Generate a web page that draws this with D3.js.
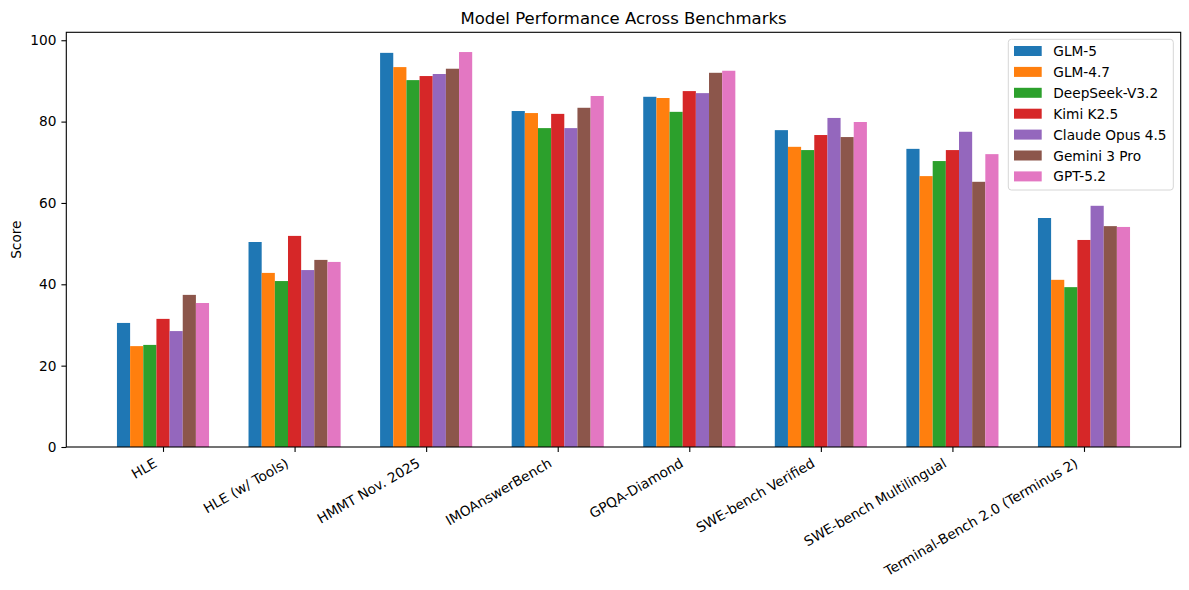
<!DOCTYPE html>
<html>
<head>
<meta charset="utf-8">
<script src="https://cdn.jsdelivr.net/npm/d3@7"></script>
<style>
  body { margin: 0; background: #fff; }
  svg { font-family: "DejaVu Sans", sans-serif; }
</style>
</head>
<body>
<div id="chart"></div>
<script>
// benchmark names and model names
var benchmarks = ["HLE", "HLE (w/ Tools)", "HMMT Nov. 2025", "IMOAnswerBench", "GPQA-Diamond",
    "SWE-bench Verified", "SWE-bench Multilingual", "Terminal-Bench 2.0 (Terminus 2)"];
var models = ["GLM-5", "GLM-4.7", "DeepSeek-V3.2", "Kimi K2.5", "Claude Opus 4.5", "Gemini 3 Pro", "GPT-5.2"];

// scores per model, one value per benchmark
var glm5     = [30.5, 50.4, 96.9, 82.6, 86.1, 77.9, 73.3, 56.3];
var glm47    = [24.8, 42.8, 93.4, 82.1, 85.8, 73.8, 66.6, 41.1];
var deepseek = [25.1, 40.8, 90.2, 78.4, 82.4, 73.0, 70.3, 39.3];
var kimi     = [31.5, 51.9, 91.2, 81.9, 87.5, 76.7, 73.0, 50.9];
var claude   = [28.5, 43.5, 91.7, 78.4, 87.0, 80.9, 77.5, 59.3];
var gemini   = [37.4, 46.0, 93.0, 83.4, 92.0, 76.2, 65.2, 54.3];
var gpt52    = [35.4, 45.5, 97.1, 86.3, 92.5, 79.9, 72.0, 54.1];

var yTicks = [0, 20, 40, 60, 80, 100];

var series = [glm5, glm47, deepseek, kimi, claude, gemini, gpt52];
var colour = d3.scaleOrdinal()
    .domain(models)
    .range(["#1f77b4", "#ff7f0e", "#2ca02c", "#d62728", "#9467bd", "#8c564b", "#e377c2"]);

var width = 1189, height = 590;
var axLeft = 66.3, axRight = 1180.7, axTop = 32.3, axBottom = 447;
var barW = 0.1;

// matplotlib style limits: 5% margin around the bar extents
var lo = -3.5 * barW, hi = benchmarks.length - 1 + 3.5 * barW;
var pad = 0.05 * (hi - lo);
var x = d3.scaleLinear().domain([lo - pad, hi + pad]).range([axLeft, axRight]);
var ymax = d3.max(series, function (s) { return d3.max(s); }) * 1.05;
var y = d3.scaleLinear().domain([0, ymax]).range([axBottom, axTop]);

var svg = d3.select("#chart").append("svg")
    .attr("width", width)
    .attr("height", height);

// bars
series.forEach(function (s, j) {
    svg.append("g")
      .selectAll("rect")
      .data(s)
      .enter()
        .append("rect")
        .attr("x", function (d, i) { return x(i + (j - 3) * barW - barW / 2); })
        .attr("width", function () { return x(barW) - x(0); })
        .attr("y", function (d) { return y(d); })
        .attr("height", function (d) { return y(0) - y(d); })
        .style("fill", colour(models[j]));
});

// y axis
var yAxis = svg.append("g")
    .attr("transform", "translate(" + axLeft + ",0)")
    .call(d3.axisLeft(y).tickValues(yTicks).tickSize(4.9).tickPadding(4.9));
yAxis.select(".domain").remove();
yAxis.selectAll("line").attr("stroke", "#000").attr("stroke-width", 1.1);
yAxis.selectAll("text").attr("font-size", "13.7px").attr("fill", "#000")
    .attr("font-family", "DejaVu Sans");

// x axis ticks
var xAxis = svg.append("g")
    .attr("transform", "translate(0," + axBottom + ")")
    .call(d3.axisBottom(x).tickValues(d3.range(benchmarks.length)).tickSize(4.9).tickFormat(""));
xAxis.select(".domain").remove();
xAxis.selectAll("line").attr("stroke", "#000").attr("stroke-width", 1.1);

// rotated tick labels
svg.append("g")
  .selectAll("text")
  .data(benchmarks)
  .enter()
    .append("text")
    .attr("transform", function (d, i) { return "translate(" + (x(i) - 5) + "," + 466 + ") rotate(-30)"; })
    .attr("text-anchor", "end")
    .attr("font-size", "13.7px")
    .attr("fill", "#000")
    .text(function (d) { return d; });

// frame
svg.append("rect")
    .attr("x", axLeft).attr("y", axTop)
    .attr("width", axRight - axLeft).attr("height", axBottom - axTop)
    .attr("fill", "none").attr("stroke", "#000").attr("stroke-width", 1.1);

// title and y label
svg.append("text")
    .attr("x", (axLeft + axRight) / 2).attr("y", 24)
    .attr("text-anchor", "middle")
    .attr("font-size", "16.5px")
    .text("Model Performance Across Benchmarks");

svg.append("text")
    .attr("transform", "translate(21," + (axTop + axBottom) / 2 + ") rotate(-90)")
    .attr("text-anchor", "middle")
    .attr("font-size", "13.7px")
    .text("Score");

// legend
var legend = svg.append("g").attr("transform", "translate(1008.3,39.3)");
legend.append("rect")
    .attr("width", 165).attr("height", 150.7)
    .attr("rx", 3).attr("ry", 3)
    .attr("fill", "#fff").attr("fill-opacity", 0.8)
    .attr("stroke", "#d6d6d6").attr("stroke-width", 1);

var items = legend.selectAll(".item")
    .data(models)
    .enter()
    .append("g")
    .attr("transform", function (d, i) { return "translate(0," + (11.7 + i * 20.9) + ")"; });

items.append("rect")
    .attr("x", 5.7).attr("y", -5)
    .attr("width", 27.7).attr("height", 10)
    .style("fill", function (d) { return colour(d); });

items.append("text")
    .attr("x", 45).attr("y", 5)
    .attr("font-size", "13.7px")
    .text(function (d) { return d; });
</script>
</body>
</html>
